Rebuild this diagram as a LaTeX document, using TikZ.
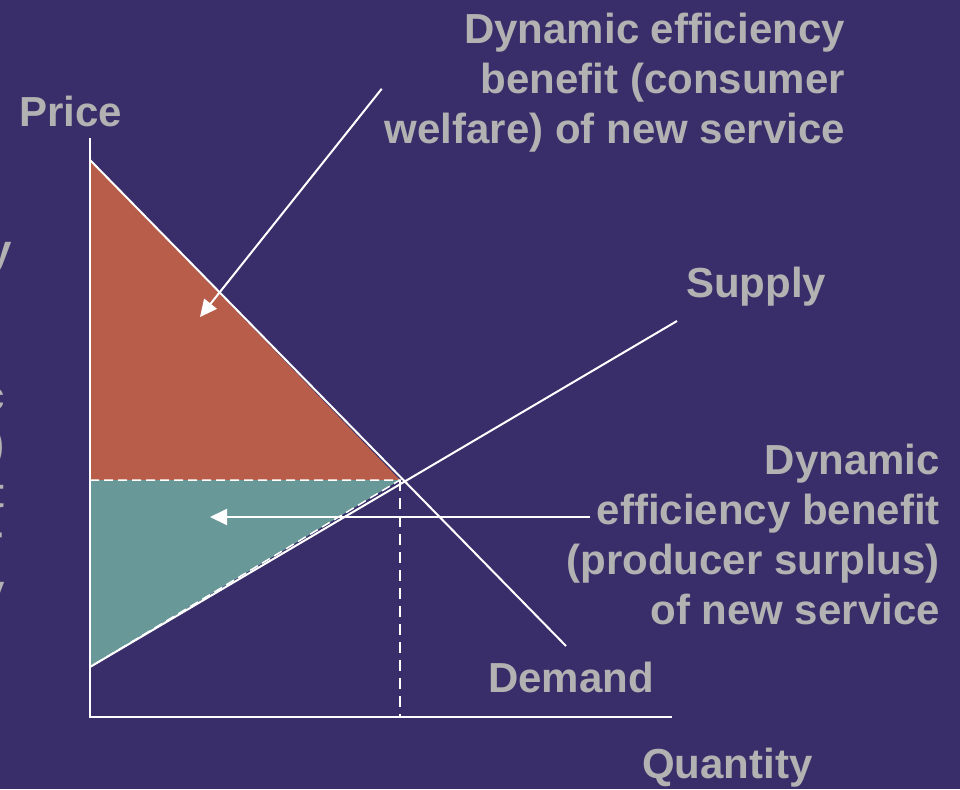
\documentclass[tikz,border=0pt]{standalone}
\usepackage{fontspec}
\setmainfont{Liberation Sans}
\usetikzlibrary{arrows.meta,positioning}

\definecolor{bgpurple}{RGB}{57,46,106}
\definecolor{surplusred}{RGB}{184,93,74}
\definecolor{surplusteal}{RGB}{104,152,152}
\definecolor{labelgray}{RGB}{178,178,178}

\tikzset{
  lbl/.style={text=labelgray, font=\fontsize{42}{50}\selectfont\bfseries, inner sep=0pt},
  curve/.style={white, line width=2pt},
  guide/.style={white, line width=2pt, dash pattern=on 11pt off 7pt},
  pointer/.style={-{Triangle[length=17pt,width=16pt]}, white, line width=2pt},
}

\begin{document}
\begin{tikzpicture}[x=1pt, y=-1pt]
  \fill[bgpurple] (0,0) rectangle (960,789);
  \useasboundingbox (0,0) rectangle (960,789);

  % points of the market diagram
  \coordinate (O) at (90,717);
  \coordinate (Ytop) at (90,138);
  \coordinate (Xend) at (672,717);
  \coordinate (Dtop) at (90,160);
  \coordinate (Dend) at (566,646);
  \coordinate (Sbot) at (90,667);
  \coordinate (Send) at (677,321);
  \coordinate (E) at (400,480);
  \coordinate (Pe) at (90,480);
  \coordinate (Qe) at (400,717);

  % surplus areas
  \fill[surplusred] (Dtop) -- (Pe) -- (E) -- cycle;
  \fill[surplusteal] (Pe) -- (E) -- (Sbot) -- cycle;
  \draw[guide, line width=1.5pt, dash pattern=on 9pt off 5pt] (Pe) -- (E) -- (Sbot) -- cycle;
  \draw[guide] (E) -- (Qe);

  % axes and curves
  \draw[curve] (Ytop) -- (O) -- (Xend);
  \draw[curve] (Dtop) -- (Dend);
  \draw[curve] (Sbot) -- (Send);

  % labels
  \node[lbl, anchor=base west] (price) at (19,127) {Price};
  \node[lbl, anchor=base west] (supply) at (686,297) {Supply};
  \node[lbl, anchor=base west] (demand) at (488,692) {Demand};
  \node[lbl, anchor=base west] (quantity) at (642,778) {Quantity};
  \node[lbl, anchor=north east, align=right] (consumer) at (845,13)
    {Dynamic efficiency\\benefit (consumer\\welfare) of new service};
  \node[lbl, anchor=north east, align=right] (producer) at (940,444)
    {Dynamic\\efficiency benefit\\(producer surplus)\\of new service};

  % text running off the left edge
  \foreach \ch/\yb/\xr [count=\i] in {y/264/12, c/410/5, )/458/5, t/507/5, r/555/3, y/604/5}
    \node[lbl, anchor=base east] (frag\i) at (\xr,\yb) {\ch};

  % pointers
  \coordinate (cstip) at (200,317);
  \coordinate (psfoot) at (590,517);
  \coordinate (pstip) at (210,517);
  \draw[pointer] ([shift={(-3,6)}]consumer.west) -- (cstip);
  \draw[pointer] (psfoot) -- (pstip);
\end{tikzpicture}
\end{document}
